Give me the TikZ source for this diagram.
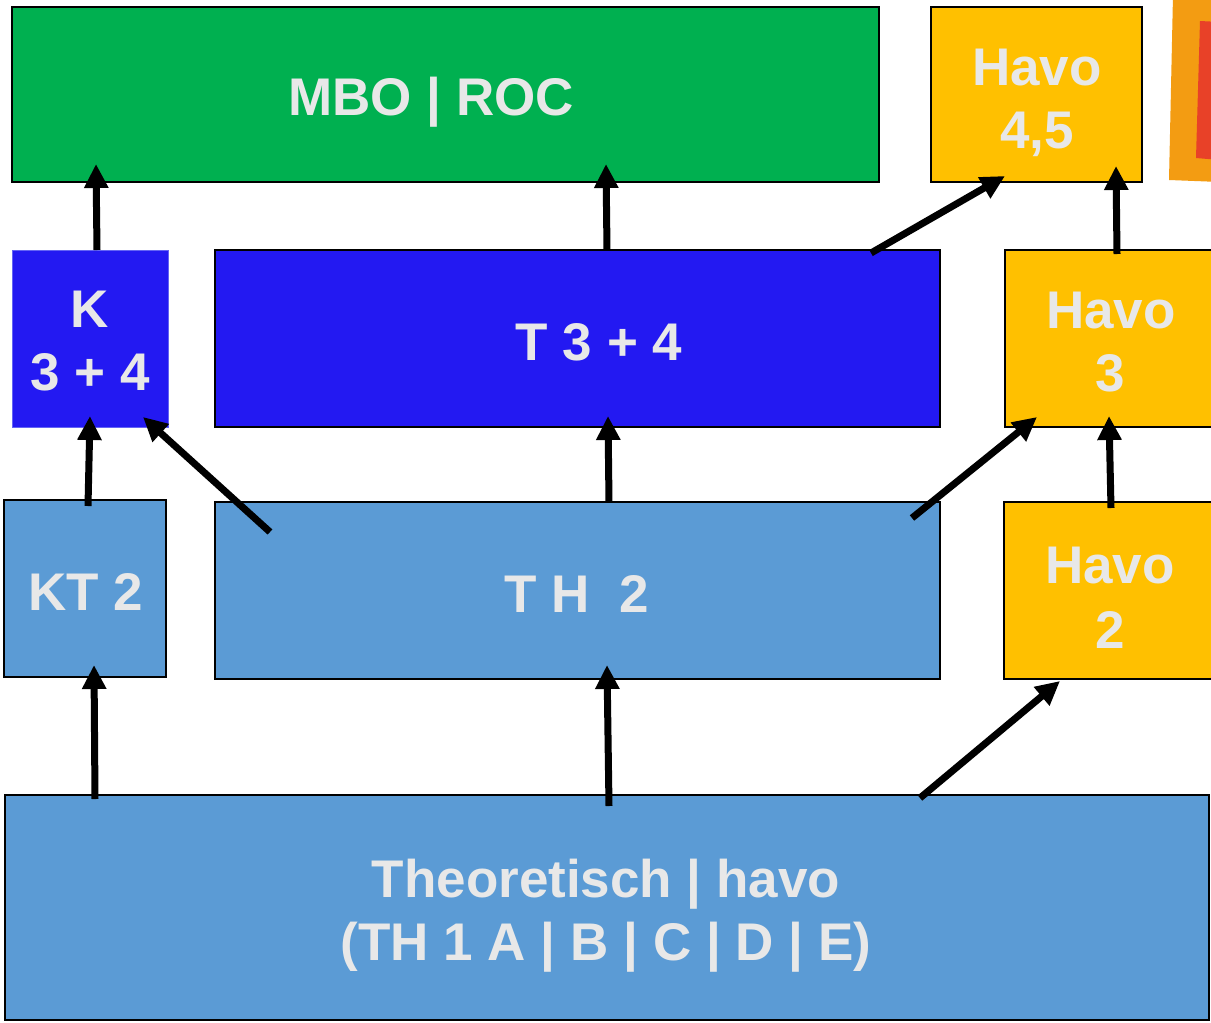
\documentclass[tikz,border=0pt]{standalone}
\usepackage{fontspec}
\setmainfont{Liberation Sans}
\usetikzlibrary{arrows.meta}
\definecolor{cgreen}{RGB}{0,176,80}
\definecolor{cyellow}{RGB}{255,192,0}
\definecolor{cblue}{RGB}{35,25,242}
\definecolor{clight}{RGB}{91,155,213}
\definecolor{ctext}{RGB}{232,232,232}
\definecolor{corange}{RGB}{243,156,18}
\definecolor{cred}{RGB}{232,65,40}
\tikzset{
  box/.style={draw=black, line width=1.5pt, inner sep=0pt, outer sep=0pt},
  txt/.style={text=ctext, font=\bfseries\fontsize{53}{63}\selectfont, inner sep=0pt, anchor=base},
  arr/.style={line width=7pt, -{Triangle[width=23pt,length=24pt]}, black}
}
\begin{document}
\begin{tikzpicture}[x=1pt,y=-1pt]
\useasboundingbox (0,0) rectangle (1211,1023);
\clip (0,0) rectangle (1211,1023);
\fill[white] (0,0) rectangle (1211,1023);
% orange/red decoration at top right
\fill[corange] (1173,-5) -- (1220,-5) -- (1220,182) -- (1169,180) -- cycle;
\fill[cred] (1200,21) -- (1220,22) -- (1220,160) -- (1196,158) -- cycle;
% boxes
\node[box, fill=cgreen, minimum width=867pt, minimum height=175pt] (mbo) at (445.5,94.5) {};
\node[box, fill=cyellow, minimum width=211pt, minimum height=175pt] (h45) at (1036.5,94.5) {};
\node[box, fill=cblue, draw={rgb,255:red,100;green,100;blue,245}, line width=1pt, minimum width=156pt, minimum height=177pt] (k34) at (90,338.5) {};
\node[box, fill=cblue, minimum width=725pt, minimum height=177pt] (t34) at (577.5,338.5) {};
\node[box, fill=cyellow, minimum width=210pt, minimum height=177pt] (h3) at (1110,338.5) {};
\node[box, fill=clight, minimum width=162pt, minimum height=177pt] (kt2) at (85,588.5) {};
\node[box, fill=clight, minimum width=725pt, minimum height=177pt] (th2) at (577.5,590.5) {};
\node[box, fill=cyellow, minimum width=211pt, minimum height=177pt] (h2) at (1109.5,590.5) {};
\node[box, fill=clight, minimum width=1204pt, minimum height=225pt] (theo) at (607,907.5) {};
% texts
\node[txt] (tmbo) at (431,115) {MBO | ROC};
\node[txt] (th45a) at (1037,85) {Havo};
\node[txt] (th45b) at (1037,148) {4,5};
\node[txt] (tk34a) at (90,327) {K};
\node[txt] (tk34b) at (90,390) {3 + 4};
\node[txt] (tt34) at (599,360) {T 3 + 4};
\node[txt] (th3a) at (1111,328) {Havo};
\node[txt] (th3b) at (1110,391) {3};
\node[txt] (tkt2) at (86,610) {KT 2};
\node[txt] (tth2) at (577,612) {T H\ \ 2};
\node[txt] (th2a) at (1110,583) {Havo};
\node[txt] (th2b) at (1110,648) {2};
\node[txt] (ttheoa) at (606,897) {Theoretisch | havo};
\node[txt] (ttheob) at (606,960) {(TH 1 A | B | C | D | E)};
% arrow end points
\coordinate (s1) at (97,250);   \coordinate (e1) at (96,164);
\coordinate (s2) at (607,250);  \coordinate (e2) at (606,164);
\coordinate (s3) at (871,253);  \coordinate (e3) at (1005,176);
\coordinate (s4) at (1117,254); \coordinate (e4) at (1116,166);
\coordinate (s5) at (88,506);   \coordinate (e5) at (90,416);
\coordinate (s6) at (270,532);  \coordinate (e6) at (143,417);
\coordinate (s7) at (609,502);  \coordinate (e7) at (608,416);
\coordinate (s8) at (912,518);  \coordinate (e8) at (1037,417);
\coordinate (s9) at (1111,508); \coordinate (e9) at (1109,416);
\coordinate (s10) at (95,799);  \coordinate (e10) at (94,665);
\coordinate (s11) at (609,806); \coordinate (e11) at (607,665);
\coordinate (s12) at (920,798); \coordinate (e12) at (1060,681);
% arrows
\draw[arr] (s1) -- (e1);
\draw[arr] (s2) -- (e2);
\draw[arr] (s3) -- (e3);
\draw[arr] (s4) -- (e4);
\draw[arr] (s5) -- (e5);
\draw[arr] (s6) -- (e6);
\draw[arr] (s7) -- (e7);
\draw[arr] (s8) -- (e8);
\draw[arr] (s9) -- (e9);
\draw[arr] (s10) -- (e10);
\draw[arr] (s11) -- (e11);
\draw[arr] (s12) -- (e12);
\end{tikzpicture}
\end{document}
